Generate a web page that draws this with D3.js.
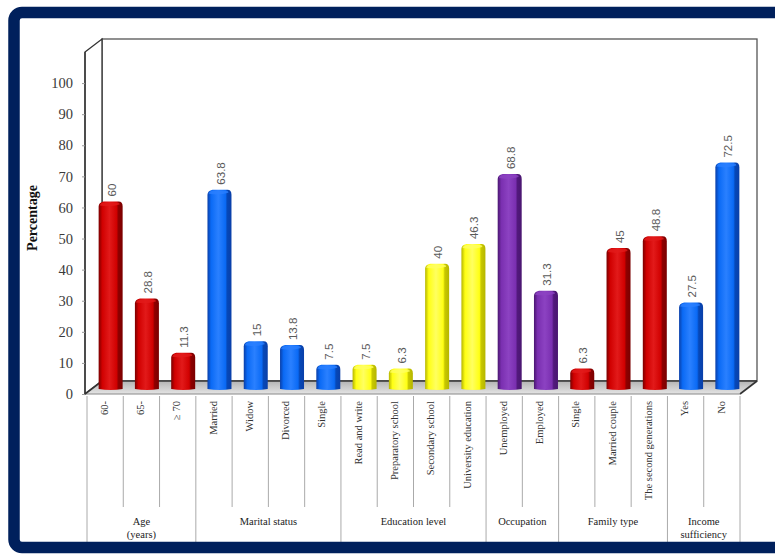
<!DOCTYPE html>
<html>
<head>
<meta charset="utf-8">
<script src="https://cdn.jsdelivr.net/npm/d3@7"></script>
<style>
  html, body { margin: 0; padding: 0; background: #fff; }
  svg { display: block; }
</style>
</head>
<body>
<svg id="chart" width="775" height="558"></svg>
<script>
// ---------------- data ----------------
const categories = ["60-", "65-", "\u2265 70", "Married", "Widow", "Divorced", "Single",
  "Read and write", "Preparatory school", "Secondary school", "University education",
  "Unemployed", "Employed", "Single", "Married couple", "The second generations", "Yes", "No"];
const values = [60, 28.8, 11.3, 63.8, 15, 13.8, 7.5, 7.5, 6.3, 40, 46.3, 68.8, 31.3, 6.3, 45, 48.8, 27.5, 72.5];
const groupNames = [["Age", "(years)"], ["Marital status"], ["Education level"], ["Occupation"], ["Family type"], ["Income", "sufficiency"]];
const groupSizes = [3, 4, 4, 2, 3, 2];
const groupColors = ["red", "blue", "yellow", "purple", "red", "blue"];
const yTicks = [0, 10, 20, 30, 40, 50, 60, 70, 80, 90, 100];
const yLabel = "Percentage";

// ---------------- setup ----------------
const svg = d3.select("#chart");
const W = 775, H = 558;
const serif = "'Liberation Serif', 'Times New Roman', serif";
const sans = "'Liberation Sans', Arial, sans-serif";

const palette = {
  red:    { dark: "#7a0000", mid: "#d00000", light: "#e21a1a", side: "#8f0000" },
  blue:   { dark: "#0a3fa8", mid: "#0a6af5", light: "#2a80ff", side: "#0648b8" },
  yellow: { dark: "#b5b500", mid: "#ffff14", light: "#ffff60", side: "#c8c800" },
  purple: { dark: "#4a1670", mid: "#7a2fb0", light: "#8c42c2", side: "#52197c" }
};

const defs = svg.append("defs");
Object.entries(palette).forEach(([k, c]) => {
  const g = defs.append("linearGradient").attr("id", "g-" + k)
    .attr("x1", "0").attr("x2", "1").attr("y1", "0").attr("y2", "0");
  g.append("stop").attr("offset", "0%").attr("stop-color", c.dark);
  g.append("stop").attr("offset", "15%").attr("stop-color", c.mid);
  g.append("stop").attr("offset", "45%").attr("stop-color", c.light);
  g.append("stop").attr("offset", "75%").attr("stop-color", c.mid);
  g.append("stop").attr("offset", "82%").attr("stop-color", c.side);
  g.append("stop").attr("offset", "100%").attr("stop-color", c.dark);
});
const floorGrad = defs.append("linearGradient").attr("id", "floorG")
  .attr("x1", "0").attr("x2", "0").attr("y1", "0").attr("y2", "1");
floorGrad.append("stop").attr("offset", "0%").attr("stop-color", "#b4b4b4");
floorGrad.append("stop").attr("offset", "100%").attr("stop-color", "#e4e4e4");

// white background
svg.append("rect").attr("width", W).attr("height", H).attr("fill", "#fff");

// ---------------- scales ----------------
const x0 = 87, x1 = 740;
const x = d3.scaleBand().domain(d3.range(categories.length)).range([x0, x1]).padding(0);
const y = d3.scaleLinear().domain([0, 110]).range([394, 52]);
const dX = 17, dY = -13;          // depth offset of back wall
const bX = 5.5, bY = -5;          // bar plane offset

const yBase = y(0);
const yTop = y(110);
const leftX = 85;

// ---------------- walls & floor ----------------
svg.append("rect")
  .attr("x", leftX + dX).attr("y", yTop + dY)
  .attr("width", (x1 + dX) - (leftX + dX)).attr("height", (yBase + dY) - (yTop + dY))
  .attr("fill", "#fff").attr("stroke", "#555").attr("stroke-width", 1.3);
svg.append("path")
  .attr("d", `M${leftX},${yTop} L${leftX + dX},${yTop + dY} L${leftX + dX},${yBase + dY} L${leftX},${yBase} Z`)
  .attr("fill", "#fff").attr("stroke", "#333").attr("stroke-width", 1.3);
svg.append("path")
  .attr("d", `M${leftX},${yBase} L${x1},${yBase} L${x1 + dX},${yBase + dY} L${leftX + dX},${yBase + dY} Z`)
  .attr("fill", "url(#floorG)").attr("stroke", "none");
svg.append("line").attr("x1", leftX + dX).attr("x2", x1 + dX).attr("y1", yBase + dY).attr("y2", yBase + dY)
  .attr("stroke", "#333").attr("stroke-width", 1.6);
svg.append("line").attr("x1", x1).attr("x2", x1 + dX).attr("y1", yBase).attr("y2", yBase + dY)
  .attr("stroke", "#333").attr("stroke-width", 1.6);
svg.append("line").attr("x1", leftX).attr("x2", x1).attr("y1", yBase).attr("y2", yBase)
  .attr("stroke", "#888").attr("stroke-width", 1);
svg.append("line").attr("x1", leftX).attr("x2", leftX + dX).attr("y1", yBase).attr("y2", yBase + dY)
  .attr("stroke", "#333").attr("stroke-width", 1.6);
svg.append("line").attr("x1", leftX).attr("x2", leftX).attr("y1", yTop).attr("y2", yBase)
  .attr("stroke", "#333").attr("stroke-width", 1.3);

// ---------------- y axis ----------------
const yAxis = svg.append("g").attr("transform", `translate(${leftX},0)`)
  .call(d3.axisLeft(y).tickValues(yTicks).tickSize(3).tickPadding(9).tickFormat(d3.format("d")));
yAxis.select(".domain").remove();
yAxis.selectAll(".tick line").attr("stroke", "#999");
yAxis.selectAll(".tick text").attr("font-family", serif).attr("font-size", 14.5).attr("fill", "#3a3a3a");

svg.append("text")
  .attr("transform", "translate(37,218) rotate(-90)")
  .attr("text-anchor", "middle")
  .attr("font-family", serif).attr("font-weight", "bold").attr("font-size", 14).attr("fill", "#111")
  .text(yLabel);

// ---------------- bars ----------------
const catColor = [];
groupSizes.forEach((n, gi) => { for (let i = 0; i < n; i++) catColor.push(groupColors[gi]); });

const bw = 24;
const barData = values.map((v, i) => ({ i, v, c: catColor[i] }));
const bars = svg.append("g");
bars.selectAll("path.bar").data(barData).join("path")
  .attr("class", "bar")
  .attr("d", d => {
    const cx = x(d.i) + x.bandwidth() / 2 + bX;
    const xl = cx - bw / 2, xr = cx + bw / 2;
    const yb = y(0) + bY, yt = y(d.v) + bY;
    const r = 4;
    return `M${xl},${yb} L${xl},${yt + r} Q${xl},${yt} ${xl + r + 1},${yt - 1} L${xr - r},${yt - 1} Q${xr},${yt - 1} ${xr},${yt + r} L${xr},${yb} Q${cx},${yb + 2} ${xl},${yb} Z`;
  })
  .attr("fill", d => `url(#g-${d.c})`);
bars.selectAll("path.cap").data(barData).join("path")
  .attr("class", "cap")
  .attr("d", d => {
    const cx = x(d.i) + x.bandwidth() / 2 + bX;
    const xl = cx - bw / 2 + 1, xr = cx + bw / 2 - 3;
    const yt = y(d.v) + bY;
    return `M${xl},${yt + 3} Q${xl + 1},${yt} ${xl + 5},${yt} L${xr - 2},${yt} Q${xr},${yt} ${xr},${yt + 2} Q${cx},${yt + 5} ${xl},${yt + 3} Z`;
  })
  .attr("fill", d => palette[d.c].light).attr("opacity", 0.8);

// value labels
svg.append("g").selectAll("text").data(barData).join("text")
  .attr("transform", d => {
    const cx = x(d.i) + x.bandwidth() / 2 + bX + 1;
    const yt = y(d.v) + bY - 6;
    return `translate(${cx},${yt}) rotate(-90)`;
  })
  .attr("dy", "0.35em")
  .attr("text-anchor", "start")
  .attr("font-family", sans).attr("font-size", 11.5).attr("fill", "#5a5a5a")
  .text(d => d.v);

// ---------------- category labels & dividers ----------------
const catG = svg.append("g");
catG.selectAll("text").data(categories).join("text")
  .attr("transform", (d, i) => `translate(${x(i) + x.bandwidth() / 2 - 1},401) rotate(-90)`)
  .attr("dy", "0.35em")
  .attr("text-anchor", "end")
  .attr("font-family", serif).attr("font-size", 10.5).attr("fill", "#333")
  .text(d => d);

const groupEdges = [0];
groupSizes.forEach(n => groupEdges.push(groupEdges[groupEdges.length - 1] + n));
const divX = d3.range(categories.length + 1).map(i => i < categories.length ? x(i) : x1);
catG.selectAll("line").data(divX).join("line")
  .attr("x1", d => d).attr("x2", d => d)
  .attr("y1", 396)
  .attr("y2", (d, i) => groupEdges.includes(i) ? 542 : 507)
  .attr("stroke", "#aaa").attr("stroke-width", 1);

groupNames.forEach((lines, gi) => {
  const a = x(groupEdges[gi]);
  const b = groupEdges[gi + 1] < categories.length ? x(groupEdges[gi + 1]) : x1;
  const t = catG.append("text")
    .attr("x", (a + b) / 2).attr("y", 525)
    .attr("text-anchor", "middle")
    .attr("font-family", serif).attr("font-size", 10.5).attr("fill", "#222");
  lines.forEach((ln, li) => {
    t.append("tspan").attr("x", (a + b) / 2).attr("dy", li === 0 ? 0 : 13).text(ln);
  });
});

// ---------------- outer frame ----------------
svg.append("rect")
  .attr("x", 14).attr("y", 12.5).attr("width", 800).attr("height", 535)
  .attr("rx", 8).attr("ry", 8)
  .attr("fill", "none").attr("stroke", "#00205c").attr("stroke-width", 11.5);
</script>
</body>
</html>
